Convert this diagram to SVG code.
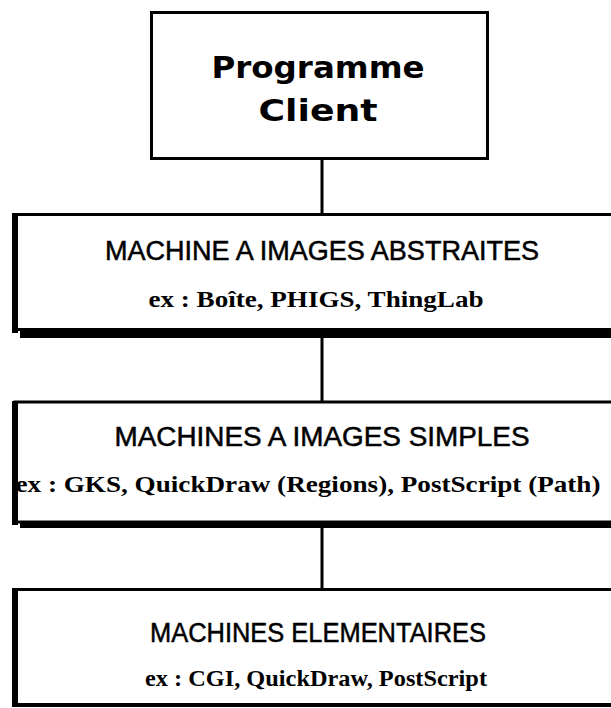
<svg xmlns="http://www.w3.org/2000/svg" width="611" height="708" viewBox="0 0 611 708">
<style>
.box{fill:#fff;stroke:#000;stroke-width:3}
.sh{fill:#000}
.conn{stroke:#000;stroke-width:3;fill:none}
.head{font-family:"DejaVu Sans","Liberation Sans",sans-serif;font-weight:bold;font-size:31px;text-anchor:middle}
.title{font-family:"Liberation Sans","DejaVu Sans",sans-serif;font-size:27px;text-anchor:middle;stroke:#000;stroke-width:0.5}
.sub{font-family:"Liberation Serif","DejaVu Serif",serif;font-weight:bold;font-size:24px;text-anchor:middle}
</style>
<rect width="611" height="708" fill="#fff"/>
<g id="connectors">
<line class="conn" x1="322" y1="160" x2="322" y2="214"/>
<line class="conn" x1="322" y1="338" x2="322" y2="401"/>
<line class="conn" x1="322" y1="528" x2="322" y2="589"/>
</g>
<g id="client">
<rect class="box" x="151.5" y="12.5" width="336" height="146" stroke-width="4"/>
<text class="head" x="318" y="78" textLength="213" lengthAdjust="spacingAndGlyphs">Programme</text>
<text class="head" x="318" y="121" textLength="119" lengthAdjust="spacingAndGlyphs">Client</text>
</g>
<g id="abstraites">
<rect class="box" x="15" y="214.5" width="610" height="115"/>
<rect class="sh" x="12" y="213" width="6" height="120"/>
<rect class="sh" x="20" y="330" width="600" height="8"/>
<text class="title" x="322" y="260" textLength="434" lengthAdjust="spacingAndGlyphs">MACHINE A IMAGES ABSTRAITES</text>
<text class="sub" x="316" y="307" textLength="335" lengthAdjust="spacingAndGlyphs">ex : Boîte, PHIGS, ThingLab</text>
</g>
<g id="simples">
<rect class="box" x="15" y="402" width="610" height="120"/>
<rect class="sh" x="12" y="401" width="6" height="124"/>
<rect class="sh" x="20" y="521" width="600" height="7"/>
<text class="title" x="322" y="446" textLength="415" lengthAdjust="spacingAndGlyphs">MACHINES A IMAGES SIMPLES</text>
<text class="sub" x="308" y="492" textLength="585" lengthAdjust="spacingAndGlyphs">ex : GKS, QuickDraw (Regions), PostScript (Path)</text>
</g>
<g id="elementaires">
<rect class="box" x="15" y="589.5" width="610" height="115"/>
<rect class="sh" x="12" y="588" width="6" height="119"/>
<rect class="sh" x="15" y="703" width="600" height="4"/>
<text class="title" x="318" y="642" textLength="336" lengthAdjust="spacingAndGlyphs">MACHINES ELEMENTAIRES</text>
<text class="sub" x="316" y="686" textLength="342" lengthAdjust="spacingAndGlyphs">ex : CGI, QuickDraw, PostScript</text>
</g>
</svg>
